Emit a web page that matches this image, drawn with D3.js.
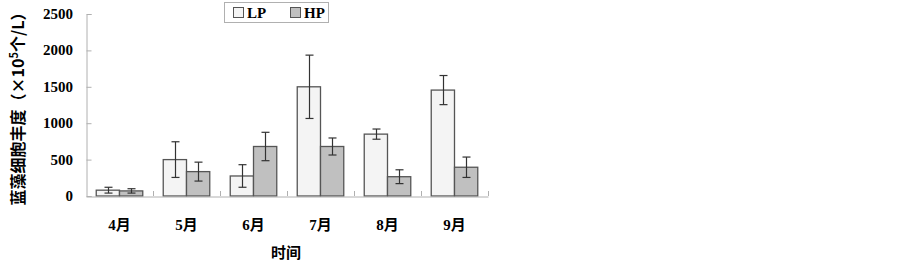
<!DOCTYPE html>
<html>
<head>
<meta charset="utf-8">
<script src="https://cdn.jsdelivr.net/npm/d3@7"></script>
<style>
  body { margin: 0; background: #fff; }
  svg { display: block; }
</style>
</head>
<body>
<svg id="chart" width="903" height="261"></svg>
<script>
// datos
const meses = ["4月", "5月", "6月", "7月", "8月", "9月"];
const series = ["LP", "HP"];
const valoresLP = [80, 500, 275, 1500, 850, 1455];
const valoresHP = [70, 335, 680, 680, 265, 395];
const errorLP = [40, 245, 155, 435, 70, 200];
const errorHP = [30, 130, 195, 117, 95, 140];
const ticksY = [0, 500, 1000, 1500, 2000, 2500];

const colores = { LP: "#f4f4f4", HP: "#c0c0c0" };

const svg = d3.select("#chart");
const margin = { left: 86, right: 415, top: 14, bottom: 65 };
const width = 903, height = 261;

const x = d3.scaleBand()
    .domain(meses)
    .range([margin.left, width - margin.right]);

const xs = d3.scaleBand()
    .domain(series)
    .range([0, x.bandwidth()])
    .paddingOuter(0.44)
    .paddingInner(0);

const y = d3.scaleLinear()
    .domain([0, 2500])
    .range([height - margin.bottom, margin.top]);

const datos = [];
meses.forEach((m, i) => {
    datos.push({ mes: m, serie: "LP", valor: valoresLP[i], err: errorLP[i] });
    datos.push({ mes: m, serie: "HP", valor: valoresHP[i], err: errorHP[i] });
});

// Eje Y
const ejeY = svg.append("g")
    .attr("transform", `translate(${margin.left + 0.5},0)`)
    .call(d3.axisRight(y).tickValues(ticksY).tickSize(5).tickFormat(""));
ejeY.select(".domain").attr("stroke", "#b0b0b0");
ejeY.selectAll(".tick line").attr("stroke", "#b0b0b0");

svg.append("g")
    .selectAll("text")
    .data(ticksY)
    .join("text")
    .attr("x", 73)
    .attr("y", d => y(d) + 5)
    .attr("text-anchor", "end")
    .style("font-family", "'Liberation Serif', 'Times New Roman', serif")
    .style("font-weight", "bold")
    .style("font-size", "15px")
    .text(d => d);

// barras
svg.append("g")
    .selectAll("rect")
    .data(datos)
    .join("rect")
    .attr("x", d => x(d.mes) + xs(d.serie))
    .attr("y", d => y(d.valor))
    .attr("width", xs.bandwidth())
    .attr("height", d => y(0) - y(d.valor))
    .attr("fill", d => colores[d.serie])
    .attr("stroke", "#555")
    .attr("stroke-width", 1.3);

// Eje X
const ejeX = svg.append("g")
    .attr("transform", `translate(0,${y(0) + 0.5})`)
    .call(d3.axisTop(x).tickValues([]).tickSizeOuter(0).tickFormat(""));
ejeX.select(".domain").attr("stroke", "#b0b0b0");
svg.append("g")
    .selectAll("line")
    .data(meses)
    .join("line")
    .attr("x1", d => x(d) + x.bandwidth() + 0.5)
    .attr("x2", d => x(d) + x.bandwidth() + 0.5)
    .attr("y1", y(0))
    .attr("y2", y(0) - 5)
    .attr("stroke", "#b0b0b0");

// barras de error
const errG = svg.append("g").attr("stroke", "#333").attr("stroke-width", 1.2);
datos.forEach(d => {
    const cx = Math.round(x(d.mes) + xs(d.serie) + xs.bandwidth() / 2) + 0.5;
    const y1 = y(d.valor + d.err), y0 = y(d.valor - d.err);
    errG.append("line").attr("x1", cx).attr("x2", cx).attr("y1", y1).attr("y2", y0);
    errG.append("line").attr("x1", cx - 4).attr("x2", cx + 4).attr("y1", y1).attr("y2", y1);
    errG.append("line").attr("x1", cx - 4).attr("x2", cx + 4).attr("y1", y0).attr("y2", y0);
});

// etiquetas meses
svg.append("g")
    .selectAll("text")
    .data(meses)
    .join("text")
    .attr("x", d => x(d) + x.bandwidth() / 2)
    .attr("y", 230)
    .attr("text-anchor", "middle")
    .style("font-family", "'Liberation Serif', 'Noto Sans CJK SC', serif")
    .style("font-weight", "bold")
    .style("font-size", "15px")
    .text(d => d);

svg.append("text")
    .attr("x", 286)
    .attr("y", 258)
    .attr("text-anchor", "middle")
    .style("font-family", "'Noto Sans CJK SC', sans-serif")
    .style("font-weight", "bold")
    .style("font-size", "15px")
    .text("时间");

// titulo eje Y
const tituloY = svg.append("text")
    .attr("transform", "translate(24,105) rotate(-90)")
    .attr("text-anchor", "middle")
    .style("font-family", "'Noto Sans CJK SC', sans-serif")
    .style("font-weight", "bold")
    .style("font-size", "16px");
tituloY.append("tspan").text("蓝藻细胞丰度（×10");
tituloY.append("tspan").attr("dy", -6).style("font-size", "11px").text("5");
tituloY.append("tspan").attr("dy", 6).text("个/L）");

// Leyenda
const leyenda = svg.append("g").attr("transform", "translate(224,2)");
leyenda.append("rect")
    .attr("x", 0.5).attr("y", 0.5)
    .attr("width", 104).attr("height", 20)
    .attr("fill", "#fff")
    .attr("stroke", "#b0b0b0");
series.forEach((s, i) => {
    const fila = leyenda.append("g").attr("transform", `translate(${9 + i * 57},5)`);
    fila.append("rect")
        .attr("x", 0.5).attr("y", 0.5)
        .attr("width", 10).attr("height", 10)
        .attr("fill", colores[s])
        .attr("stroke", "#555");
    fila.append("text")
        .attr("x", 14)
        .attr("y", 11)
        .style("font-family", "'Liberation Serif', serif")
        .style("font-weight", "bold")
        .style("font-size", "15px")
        .text(s);
});
</script>
</body>
</html>
